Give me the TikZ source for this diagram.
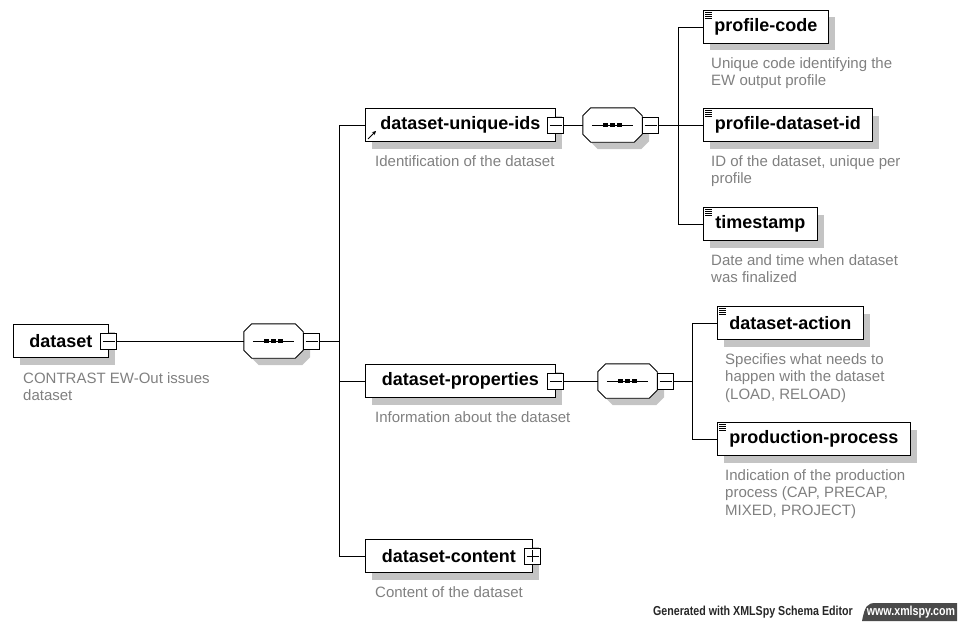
\documentclass[tikz,border=0pt]{standalone}
\usepackage{fontspec}
\setmainfont{Liberation Sans}
\newfontfamily\footfont[FakeStretch=0.82]{Liberation Sans}
\usetikzlibrary{positioning,shadows,arrows.meta,calc}
\definecolor{descgray}{HTML}{808080}
\definecolor{shadegray}{HTML}{C4C4C4}
\definecolor{tabgray}{HTML}{4A4A4A}
%% octagon round a sequence node: #1 node, #2 shift
\newcommand{\octpath}[2]{([shift={#2},xshift=8pt]#1.north west) -- ([shift={#2},xshift=-8pt]#1.north east)
  -- ([shift={#2},yshift=-8pt]#1.north east) -- ([shift={#2},yshift=8pt]#1.south east)
  -- ([shift={#2},xshift=-8pt]#1.south east) -- ([shift={#2},xshift=8pt]#1.south west)
  -- ([shift={#2},yshift=8pt]#1.south west) -- ([shift={#2},yshift=-8pt]#1.north west) -- cycle}
\tikzset{
  elem/.style={draw, fill=white, anchor=west, minimum height=33, inner sep=0,
    line width=0.9pt, font=\bfseries\fontsize{18}{20}\selectfont,
    drop shadow={shadow xshift=7pt, shadow yshift=-7pt, fill=shadegray, opacity=1}},
  leaf/.style={elem, path picture={
    \foreach \k in {1,...,4}
      \draw[line width=0.6pt] ([xshift=2pt,yshift={-1.9pt*\k}]path picture bounding box.north west) -- ++(7pt,0);}},
  minussq/.style={draw, fill=white, minimum size=16, inner sep=0, line width=0.9pt,
    path picture={\draw[line width=0.9pt] ([xshift=2pt]path picture bounding box.west) -- ([xshift=-2pt]path picture bounding box.east);}},
  plussq/.style={draw, fill=white, minimum size=16, inner sep=0, line width=0.9pt,
    path picture={\draw[line width=0.9pt] ([xshift=2pt]path picture bounding box.west) -- ([xshift=-2pt]path picture bounding box.east);
      \draw[line width=0.9pt] ([yshift=-2pt]path picture bounding box.north) -- ([yshift=2pt]path picture bounding box.south);}},
  seqbox/.style={minimum width=59, minimum height=34, inner sep=0},
  desc/.style={anchor=north west, align=left, inner sep=0, text=descgray,
    font=\fontsize{15}{17.5}\selectfont},
  conn/.style={line width=0.9pt}
}
\begin{document}
\begin{tikzpicture}[x=1pt,y=-1pt]
  \useasboundingbox (0,0) rectangle (967,626);
  %% sequence compositors
  \node[seqbox] (seq1) at (273.5,341) {};
  \node[seqbox] (seq2) at (612.5,125) {};
  \node[seqbox] (seq3) at (627.5,381) {};
  \foreach \s in {seq1,seq2,seq3} {
    \fill[shadegray] \octpath{\s}{(7pt,-7pt)};
    \draw[conn, fill=white] \octpath{\s}{(0pt,0pt)};
    \draw[conn] ([xshift=9pt]\s.west) -- ([xshift=-9pt]\s.east);
    \foreach \dx in {-7,0,7}
      \fill[black] ([xshift=\dx pt]\s.center) +(-2.4pt,-2.4pt) rectangle +(2.4pt,2.4pt);
  }
  \node[minussq, anchor=west] (sq1) at (seq1.east) {};
  \node[minussq, anchor=west] (sq2) at (seq2.east) {};
  \node[minussq, anchor=west] (sq3) at (seq3.east) {};
  %% root element
  \node[elem, minimum width=95] (dataset) at (13,341) {dataset};
  \node[minussq] (dsq) at (dataset.east) {};
  \node[desc] (datasetdesc) at ([xshift=10pt,yshift=-14pt]dataset.south west) {CONTRAST EW-Out issues\\dataset};
  %% children of dataset
  \node[elem, minimum width=190] (uniq) at (365,125) {dataset-unique-ids};
  \node[minussq] (usq) at (uniq.east) {};
  \draw[line width=0.8pt, -{Stealth[length=4pt,width=4pt]}] ([shift={(3pt,3pt)}]uniq.south west) -- ++(8pt,8pt);
  \node[desc] (uniqdesc) at ([xshift=10pt,yshift=-13pt]uniq.south west) {Identification of the dataset};
  \node[elem, minimum width=190] (props) at (365,381) {dataset-properties};
  \node[minussq] (psq) at (props.east) {};
  \node[desc] (propsdesc) at ([xshift=10pt,yshift=-13pt]props.south west) {Information about the dataset};
  \node[elem, minimum width=167] (content) at (365,556) {dataset-content};
  \node[plussq] (csq) at (content.east) {};
  \node[desc] (contentdesc) at ([xshift=10pt,yshift=-13pt]content.south west) {Content of the dataset};
  \draw[conn] (dsq.east) -- (seq1.west);
  \coordinate (bus1) at (339,341);
  \draw[conn] (sq1.east) -- (bus1);
  \foreach \c in {uniq,props,content}
    \draw[conn] (bus1) |- (\c.west);
  %% dataset-unique-ids sequence
  \node[leaf, minimum width=125] (pcode) at (703,27) {profile-code};
  \node[desc] (pcodedesc) at ([xshift=8pt,yshift=-13pt]pcode.south west) {Unique code identifying the\\EW output profile};
  \node[leaf, minimum width=169] (pdsid) at (703,125) {profile-dataset-id};
  \node[desc] (pdsiddesc) at ([xshift=8pt,yshift=-13pt]pdsid.south west) {ID of the dataset, unique per\\profile};
  \node[leaf, minimum width=114] (tstamp) at (703,224) {timestamp};
  \node[desc] (tstampdesc) at ([xshift=8pt,yshift=-13pt]tstamp.south west) {Date and time when dataset\\was finalized};
  \draw[conn] (usq.east) -- (seq2.west);
  \coordinate (bus2) at (678,125);
  \draw[conn] (sq2.east) -- (bus2);
  \foreach \c in {pcode,pdsid,tstamp}
    \draw[conn] (bus2) |- (\c.west);
  %% dataset-properties sequence
  \node[leaf, minimum width=146] (action) at (717,323) {dataset-action};
  \node[desc] (actiondesc) at ([xshift=8pt,yshift=-13pt]action.south west) {Specifies what needs to\\happen with the dataset\\(LOAD, RELOAD)};
  \node[leaf, minimum width=193] (process) at (717,439) {production-process};
  \node[desc] (processdesc) at ([xshift=8pt,yshift=-13pt]process.south west) {Indication of the production\\process (CAP, PRECAP,\\MIXED, PROJECT)};
  \draw[conn] (psq.east) -- (seq3.west);
  \coordinate (bus3) at (692,381);
  \draw[conn] (sq3.east) -- (bus3);
  \foreach \c in {action,process}
    \draw[conn] (bus3) |- (\c.west);
  %% footer
  \node[anchor=east, inner sep=0, text=black!85, font=\footfont\bfseries\fontsize{13}{13}\selectfont] (gen) at (853,612) {Generated with XMLSpy Schema Editor};
  \fill[tabgray] (862,621) .. controls (865,606) and (867,603) .. (876,603) -- (957,603) -- (957,621) -- cycle;
  \node[inner sep=0, text=white, font=\footfont\bfseries\fontsize{13}{13}\selectfont] (web) at (911,612) {www.xmlspy.com};
\end{tikzpicture}
\end{document}
